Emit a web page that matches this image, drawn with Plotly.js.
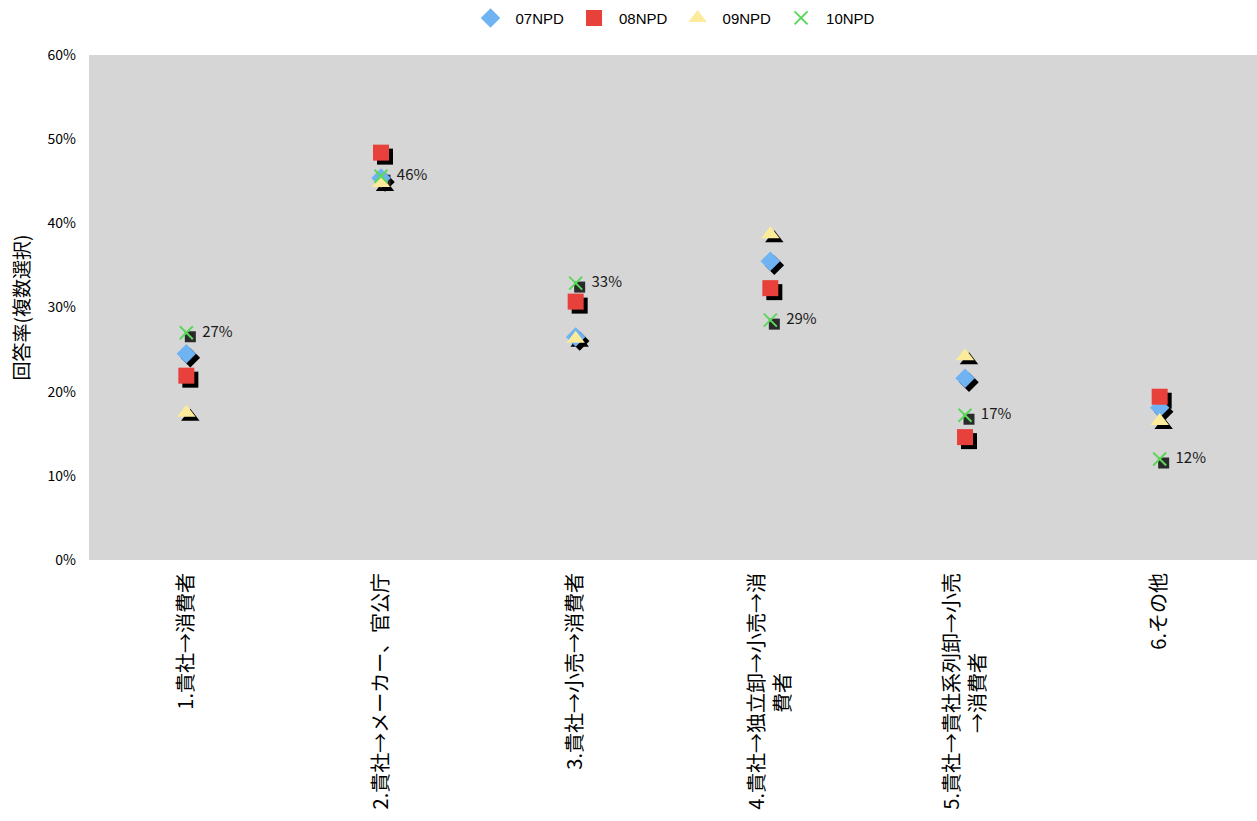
<!DOCTYPE html>
<html>
<head>
<meta charset="utf-8">
<script src="https://cdn.plot.ly/plotly-3.0.1.min.js"></script>
<style>html,body{margin:0;padding:0;background:#fff}#chart{width:1257px;height:821px}</style>
</head>
<body>
<div id="chart"></div>
<script>
const categories = [
  "1.貴社→消費者",
  "2.貴社→メーカー、官公庁",
  "3.貴社→小売→消費者",
  "4.貴社→独立卸→小売→消<br>費者",
  "5.貴社→貴社系列卸→小売<br>→消費者",
  "6.その他"
];
const seriesNames = ["07NPD", "08NPD", "09NPD", "10NPD"];
const v07 = [24.5, 45.4, 26.5, 35.5, 21.6, 18.1];
const v08 = [21.9, 48.4, 30.7, 32.3, 14.6, 19.4];
const v09 = [17.5, 44.8, 26.3, 38.7, 24.2, 16.5];
const v10 = [27.0, 45.6, 32.9, 28.5, 17.2, 12.0];
const labels10 = ["27%", "46%", "33%", "29%", "17%", "12%"];
const yTickVals = [0, 10, 20, 30, 40, 50, 60];
const yTickText = ["0%", "10%", "20%", "30%", "40%", "50%", "60%"];

const colors = ["#6fb3f2", "#e8413c", "#fbeb9a", "#5ad85a"];
const symbols = ["diamond", "square", "triangle-up", "x-thin-open"];
const sizes = [15, 16, 16, 13];
const shadowSymbols = ["diamond", "square", "triangle-up", "square"];
const allVals = [v07, v08, v09, v10];

const idx = categories.map((c, i) => i);
const font = "Noto Sans CJK JP, Noto Sans, sans-serif";
const latin = "Liberation Sans, Arial, sans-serif";

// centre wrapped second lines (rotated labels are end-aligned by default)
const tickText = categories.map(c => {
  const parts = c.split("<br>");
  if (parts.length < 2) return c;
  const pad = Math.round((parts[0].length - 1 - parts[1].length) / 2);
  return parts[0] + "<br>" + parts[1] + "\u3000".repeat(Math.max(0, pad));
});

// plot geometry for shadow offset (4px right, 4px down)
const plotW = 1168, plotH = 505;
const dx = 4 * 6 / plotW;
const dy = 4 * 60 / plotH;

const traces = [];
// shadows on the hidden base axes (drawn underneath)
allVals.forEach((vals, s) => {
  traces.push({
    x: idx, y: vals, xaxis: "x", yaxis: "y",
    type: "scatter", mode: "markers", showlegend: false, hoverinfo: "skip",
    marker: {symbol: shadowSymbols[s], size: s === 3 ? 11 : sizes[s], color: s === 3 ? "#2a2a2a" : "#000"}
  });
});
// main series on the visible overlay axes
allVals.forEach((vals, s) => {
  const t = {
    x: idx, y: vals, name: seriesNames[s], xaxis: "x2", yaxis: "y2",
    type: "scatter", mode: "markers",
    marker: {symbol: symbols[s], size: sizes[s], color: colors[s],
             line: s === 3 ? {color: colors[s], width: 2} : {width: 0}}
  };
  if (s === 3) {
    t.mode = "markers+text";
    t.text = labels10.map(l => "  " + l);
    t.textposition = "middle right";
    t.textfont = {family: font, size: 15, color: "#1a1a1a"};
  }
  traces.push(t);
});

const layout = {
  width: 1257, height: 821,
  margin: {l: 89, r: 0, t: 55, b: 261},
  paper_bgcolor: "#ffffff",
  plot_bgcolor: "#d6d6d6",
  font: {family: font, size: 14, color: "#000"},
  showlegend: true,
  legend: {orientation: "h", x: 0.5, xanchor: "center", y: 0.998, yanchor: "top",
           yref: "container", itemwidth: 40,
           font: {family: latin, size: 15, color: "#000"}},
  xaxis: {range: [-0.5 - dx, 5.5 - dx], visible: false, fixedrange: true},
  yaxis: {range: [dy, 60 + dy], visible: false, fixedrange: true},
  xaxis2: {
    overlaying: "x", side: "bottom",
    range: [-0.5, 5.5], tickvals: idx, ticktext: tickText, tickangle: -90,
    showgrid: false, zeroline: false, showline: false, ticks: "",
    ticklabelstandoff: 8,
    tickfont: {family: font, size: 20, color: "#000"}
  },
  yaxis2: {
    overlaying: "y", side: "left",
    range: [0, 60], tickvals: yTickVals, ticktext: yTickText,
    showgrid: false, zeroline: false, showline: false, ticks: "",
    ticklabelstandoff: 12,
    tickfont: {family: font, size: 14, color: "#000"},
    title: {text: "回答率(複数選択)", font: {family: font, size: 19, color: "#000"}, standoff: 12}
  }
};

Plotly.newPlot("chart", traces, layout, {displayModeBar: false});
</script>
</body>
</html>
